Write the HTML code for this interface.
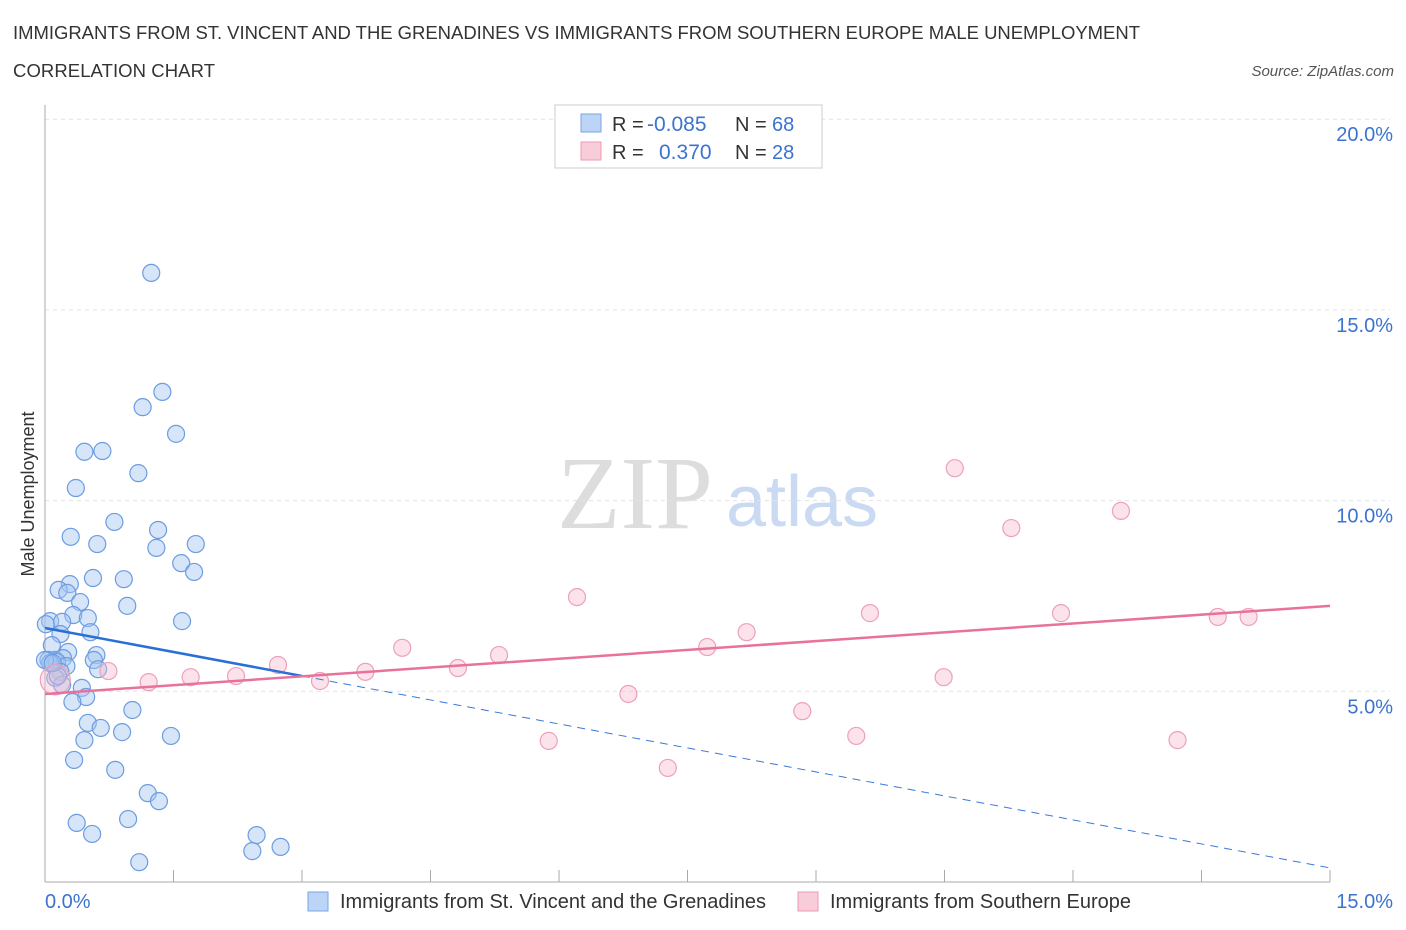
<!DOCTYPE html>
<html><head><meta charset="utf-8"><style>
body{margin:0;background:#fff;font-family:"Liberation Sans",sans-serif;}
svg{display:block}
</style></head><body>
<svg width="1406" height="930" xmlns="http://www.w3.org/2000/svg">
<text x="13" y="39" font-size="18.5" fill="#333" textLength="1127">IMMIGRANTS FROM ST. VINCENT AND THE GRENADINES VS IMMIGRANTS FROM SOUTHERN EUROPE MALE UNEMPLOYMENT</text>
<text x="13" y="77" font-size="18.5" fill="#333" textLength="202">CORRELATION CHART</text>
<text x="1394" y="76" font-size="15" fill="#555" font-style="italic" text-anchor="end">Source: ZipAtlas.com</text>
<text x="635" y="528" font-size="104" fill="#ddd" font-family="Liberation Serif,serif" text-anchor="middle">ZIP</text>
<text x="802" y="526" font-size="72" fill="#c9daf2" text-anchor="middle">atlas</text>
<g id="grid"></g>
<g id="axes"></g>
<g id="marks"></g>
<text transform="translate(34,494) rotate(-90)" font-size="18" fill="#333" text-anchor="middle">Male Unemployment</text>
<g>
<rect x="555" y="105" width="267" height="63" fill="#fff" stroke="#ccc"/>
<rect x="581" y="114" width="20" height="18" fill="#bcd4f5" stroke="#7aa6e6"/>
<text x="612" y="131" font-size="20" fill="#333">R = </text><text x="647" y="131" font-size="21" fill="#3b73d0">-0.085</text>
<text x="735" y="131" font-size="20" fill="#333">N = </text><text x="772" y="131" font-size="20" fill="#3b73d0">68</text>
<rect x="581" y="142" width="20" height="18" fill="#f9ccda" stroke="#eb9ab5"/>
<text x="612" y="159" font-size="20" fill="#333">R = </text><text x="659" y="159" font-size="21" fill="#3b73d0">0.370</text>
<text x="735" y="159" font-size="20" fill="#333">N = </text><text x="772" y="159" font-size="20" fill="#3b73d0">28</text>
</g>
<g>
<rect x="308" y="892" width="20" height="19" fill="#bcd4f5" stroke="#7aa6e6"/>
<text x="340" y="908" font-size="20" fill="#333" textLength="426">Immigrants from St. Vincent and the Grenadines</text>
<rect x="798" y="892" width="20" height="19" fill="#f9ccda" stroke="#eb9ab5"/>
<text x="830" y="908" font-size="20" fill="#333" textLength="301">Immigrants from Southern Europe</text>
</g>
</svg>
<script>
const blueX=[1.24,1.37,1.14,1.53,0.46,0.67,1.09,0.36,0.81,1.32,0.30,0.61,1.30,1.76,1.59,1.74,0.56,0.92,0.29,0.16,0.26,0.41,0.96,0.33,0.50,1.60,0.06,0.01,0.20,0.53,0.18,0.08,0.12,0.27,0.60,0.21,0.04,0.14,0.57,0.25,0.18,0.62,0.12,0.43,0.48,0.32,1.02,0.50,0.65,0.90,1.47,0.46,0.34,0.82,1.20,1.33,0.37,0.55,0.97,2.47,2.42,2.75,1.10,0.20,0.15,0.06,0.00,0.09];
const blueY=[15.97,12.85,12.45,11.75,11.28,11.30,10.72,10.33,9.44,9.23,9.05,8.86,8.76,8.86,8.36,8.13,7.97,7.94,7.81,7.66,7.58,7.34,7.24,7.00,6.92,6.84,6.84,6.76,6.82,6.55,6.50,6.21,5.82,6.03,5.95,5.87,5.82,5.77,5.82,5.66,5.51,5.58,5.35,5.09,4.85,4.72,4.51,4.17,4.04,3.93,3.83,3.72,3.20,2.94,2.33,2.12,1.55,1.26,1.65,1.23,0.81,0.92,0.52,5.17,5.40,5.74,5.82,5.74];
const pinkX=[0.12,0.74,1.21,1.70,2.23,2.72,3.21,3.74,4.17,4.82,5.30,5.88,6.21,6.81,7.27,7.73,8.19,8.84,9.47,9.63,10.49,10.62,11.28,11.86,12.56,13.22,13.69,14.05];
const pinkY=[5.30,5.53,5.24,5.37,5.40,5.69,5.27,5.51,6.14,5.61,5.95,3.70,7.47,4.93,2.99,6.16,6.55,4.48,3.83,7.05,5.37,10.85,9.28,7.05,9.73,3.72,6.95,6.95];
const blueTrend=[6.66,0.37];
const pinkTrend=[4.93,7.24];
const yTicks=[5,10,15,20];
const yTickLabels=["5.0%","10.0%","15.0%","20.0%"];
const xTickLabels=["0.0%","15.0%"];
const NS="http://www.w3.org/2000/svg";
const sx=v=>45+v*1285/15, sy=v=>882-v*190.7/5;
function mk(tag,attrs,parent){const e=document.createElementNS(NS,tag);for(const k in attrs)e.setAttribute(k,attrs[k]);parent.appendChild(e);return e;}
const grid=document.getElementById('grid'),axes=document.getElementById('axes'),marks=document.getElementById('marks');
yTicks.forEach((t,i)=>{
 const l=mk('line',{x1:45,x2:1390,y1:sy(t),y2:sy(t),stroke:'#e2e2e2','stroke-dasharray':'4,4'},grid);
 
 
 const tx=mk('text',{x:1393,y:sy(t)+22,'font-size':20,fill:'#3b73d0','text-anchor':'end'},axes);tx.textContent=yTickLabels[i];
 
 
});
const ax=mk('line',{x1:45,x2:45,y1:105,y2:882,stroke:'#aaa'},axes);


const bx=mk('line',{x1:45,x2:1330,y1:882,y2:882,stroke:'#aaa'},axes);


for(let i=1;i<=10;i++){const v=i*1.5;const t=mk('line',{x1:sx(v),x2:sx(v),y1:870,y2:882,stroke:'#aaa'},axes);
 
 }
[0,15].forEach((v,i)=>{const t=mk('text',{x:i?1393:45,y:908,'font-size':20,fill:'#3b73d0','text-anchor':i?'end':'start'},axes);t.textContent=xTickLabels[i];
 
 });
blueX.forEach((x,i)=>{const c=mk('circle',{cx:sx(x),cy:sy(blueY[i]),r:8.5,fill:'rgba(165,198,240,0.45)',stroke:'#6c9ce2','stroke-width':1.2},marks);
 
 });
pinkX.forEach((x,i)=>{const c=mk('circle',{cx:sx(x),cy:sy(pinkY[i]),r:i==0?15:8.5,fill:'rgba(247,185,205,0.4)',stroke:'#eda0b9','stroke-width':1.2},marks);
 
 });
const bAt=x=>blueTrend[0]+(blueTrend[1]-blueTrend[0])*x/15;
const d=mk('line',{x1:sx(3),y1:sy(bAt(3)),x2:sx(15),y2:sy(bAt(15)),stroke:'#3b78d8','stroke-width':1,'stroke-dasharray':'8,6'},marks);


const s=mk('line',{x1:sx(0),y1:sy(bAt(0)),x2:sx(3),y2:sy(bAt(3)),stroke:'#2a6fd6','stroke-width':2.5},marks);


const p=mk('line',{x1:sx(0),y1:sy(pinkTrend[0]),x2:sx(15),y2:sy(pinkTrend[1]),stroke:'#e8729a','stroke-width':2.5},marks);


</script>
</body></html>
